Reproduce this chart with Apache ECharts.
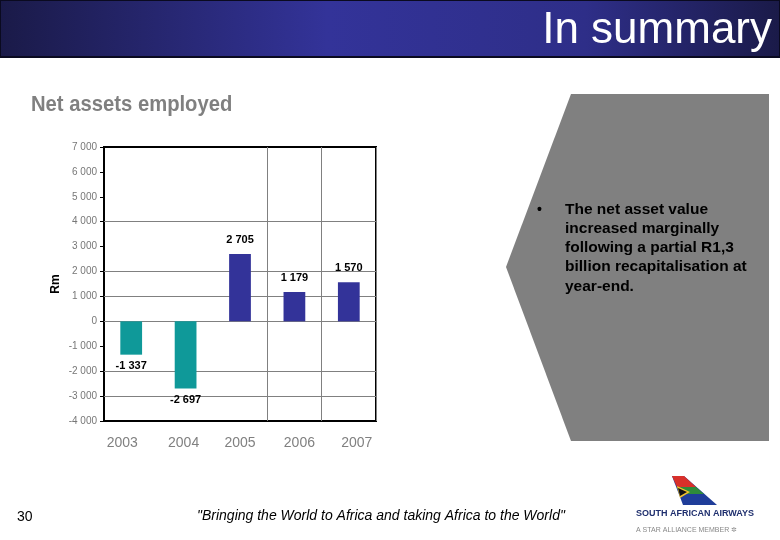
<!DOCTYPE html>
<html>
<head>
<meta charset="utf-8">
<script src="https://cdn.jsdelivr.net/npm/echarts@6/dist/echarts.min.js"></script>
<style>
html,body{margin:0;padding:0;background:#fff;}
#chart{width:780px;height:540px;}
</style>
</head>
<body>
<div id="chart"></div>
<script>
var categories = ['2003', '2004', '2005', '2006', '2007'];
var netAssets = [-1337, -2697, 2705, 1179, 1570];
var gridValues = [4000, 2000, 1000, 0, -2000, -3000];
var verticalGridAfter = [3, 4];
var yMin = -4000, yMax = 7000, yStep = 1000;
var bulletLines = ['The net asset value', 'increased marginally', 'following a partial R1,3', 'billion recapitalisation at', 'year-end.'];

function fmt(v) {
  var s = String(Math.abs(v));
  s = s.replace(/\B(?=(\d{3})+(?!\d))/g, ' ');
  return (v < 0 ? '-' : '') + s;
}

var chart = echarts.init(document.getElementById('chart'));

// slight horizontal offsets of the category labels, as placed in the original slide
var labelShift = [-9, -2, 0, 5, 8];
var richLabels = {};
labelShift.forEach(function (d, i) {
  richLabels['c' + i] = {
    color: '#808080', fontSize: 14, fontFamily: '"Liberation Sans", Arial, sans-serif',
    padding: d >= 0 ? [0, 0, 0, 2 * d] : [0, -2 * d, 0, 0]
  };
});

var graphics = [
  {
    type: 'rect', shape: {x: 0, y: 0, width: 780, height: 57},
    style: {
      fill: new echarts.graphic.LinearGradient(0, 0, 1, 0, [
        {offset: 0, color: '#1a1a48'},
        {offset: 0.42, color: '#333399'},
        {offset: 0.75, color: '#2e2e88'},
        {offset: 1, color: '#1a1a48'}
      ]),
      stroke: '#0a0a20', lineWidth: 2
    },
    z: 0
  },
  {
    type: 'text', right: 8, top: 9,
    style: {text: 'In summary', fill: '#ffffff', font: '44px "Liberation Sans", Arial, sans-serif'}
  },
  {
    type: 'text', left: 31, top: 94, scaleX: 0.92, originX: 31,
    style: {text: 'Net assets employed', fill: '#808080', font: 'bold 22px "Liberation Sans", Arial, sans-serif'}
  },
  {
    type: 'polygon',
    shape: {points: [[571, 94], [769, 94], [769, 441], [571, 441], [506, 267]]},
    style: {fill: '#808080'},
    z: 0
  },
  {
    type: 'text', left: 537, top: 203,
    style: {text: '•', fill: '#000', font: 'bold 14px "Liberation Sans", Arial, sans-serif'}
  },
  {
    type: 'text', left: 565, top: 200,
    style: {text: bulletLines.join('\n'), fill: '#000', lineHeight: 19.2, font: 'bold 15.5px "Liberation Sans", Arial, sans-serif'}
  },
  {
    type: 'text', left: 17, top: 510,
    style: {text: '30', fill: '#000', font: '14px "Liberation Sans", Arial, sans-serif'}
  },
  {
    type: 'text', left: 197, top: 509,
    style: {text: '"Bringing the World to Africa and taking Africa to the World"', fill: '#000', font: 'italic 14px "Liberation Sans", Arial, sans-serif'}
  },
  // logo tail
  {type: 'polygon', shape: {points: [[672, 476], [684, 476], [717, 505], [683, 505]]}, style: {fill: '#1f3d99'}},
  {type: 'polygon', shape: {points: [[672, 476], [684, 476], [696, 487], [677, 487]]}, style: {fill: '#d9302a'}},
  {type: 'polygon', shape: {points: [[677, 487], [696, 487], [704, 494], [680, 494]]}, style: {fill: '#2e8b3a'}},
  {type: 'polygon', shape: {points: [[677, 486], [690, 492], [680, 498]]}, style: {fill: '#f2c12e'}},
  {type: 'polygon', shape: {points: [[678, 488], [687, 492], [680, 496]]}, style: {fill: '#111'}},
  {
    type: 'text', left: 636, top: 509,
    style: {text: 'SOUTH AFRICAN AIRWAYS', fill: '#1f2f6e', font: 'bold 9px "Liberation Sans", Arial, sans-serif'}
  },
  {
    type: 'text', left: 636, top: 527,
    style: {text: 'A STAR ALLIANCE MEMBER ✲', fill: '#888', font: '7px "Liberation Sans", Arial, sans-serif'}
  }
];

chart.setOption({
  animation: false,
  grid: {left: 104, right: 404, top: 147, bottom: 119, show: true, borderColor: '#000', borderWidth: 2, backgroundColor: 'transparent'},
  xAxis: {
    type: 'category',
    data: categories,
    axisLine: {show: false},
    axisTick: {show: false},
    axisLabel: {
      interval: 0,
      hideOverlap: false,
      margin: 15,
      formatter: function (value, index) { return '{c' + index + '|' + value + '}'; },
      rich: richLabels
    },
    splitLine: {
      show: true,
      interval: function (index) { return verticalGridAfter.indexOf(index) >= 0; },
      lineStyle: {color: '#808080', width: 1}
    }
  },
  yAxis: {
    type: 'value',
    min: yMin, max: yMax, interval: yStep,
    name: 'Rm',
    nameLocation: 'middle',
    nameGap: 42,
    nameRotate: 90,
    nameTextStyle: {color: '#000', fontSize: 12, fontWeight: 'bold', fontFamily: '"Liberation Sans", Arial, sans-serif'},
    axisLine: {show: true, lineStyle: {color: '#000', width: 2}},
    axisTick: {show: true, length: 4, lineStyle: {color: '#000'}},
    axisLabel: {color: '#777', fontSize: 10, margin: 7, formatter: fmt, fontFamily: '"Liberation Sans", Arial, sans-serif'},
    splitLine: {show: false}
  },
  series: [{
    type: 'bar',
    barWidth: '40%',
    data: netAssets.map(function (v) {
      return {
        value: v,
        itemStyle: {color: v < 0 ? '#0f9999' : '#333399'},
        label: {position: v < 0 ? 'bottom' : 'top', distance: v < 0 ? 6 : 9}
      };
    }),
    label: {
      show: true,
      color: '#000',
      fontSize: 11,
      fontWeight: 'bold',
      fontFamily: '"Liberation Sans", Arial, sans-serif',
      formatter: function (p) { return fmt(p.value); }
    },
    markLine: {
      silent: true,
      symbol: ['none', 'none'],
      label: {show: false},
      lineStyle: {color: '#808080', width: 1, type: 'solid'},
      z: 1,
      data: gridValues.map(function (g) { return {yAxis: g}; })
    },
    z: 2
  }],
  graphic: graphics
});
</script>
</body>
</html>
